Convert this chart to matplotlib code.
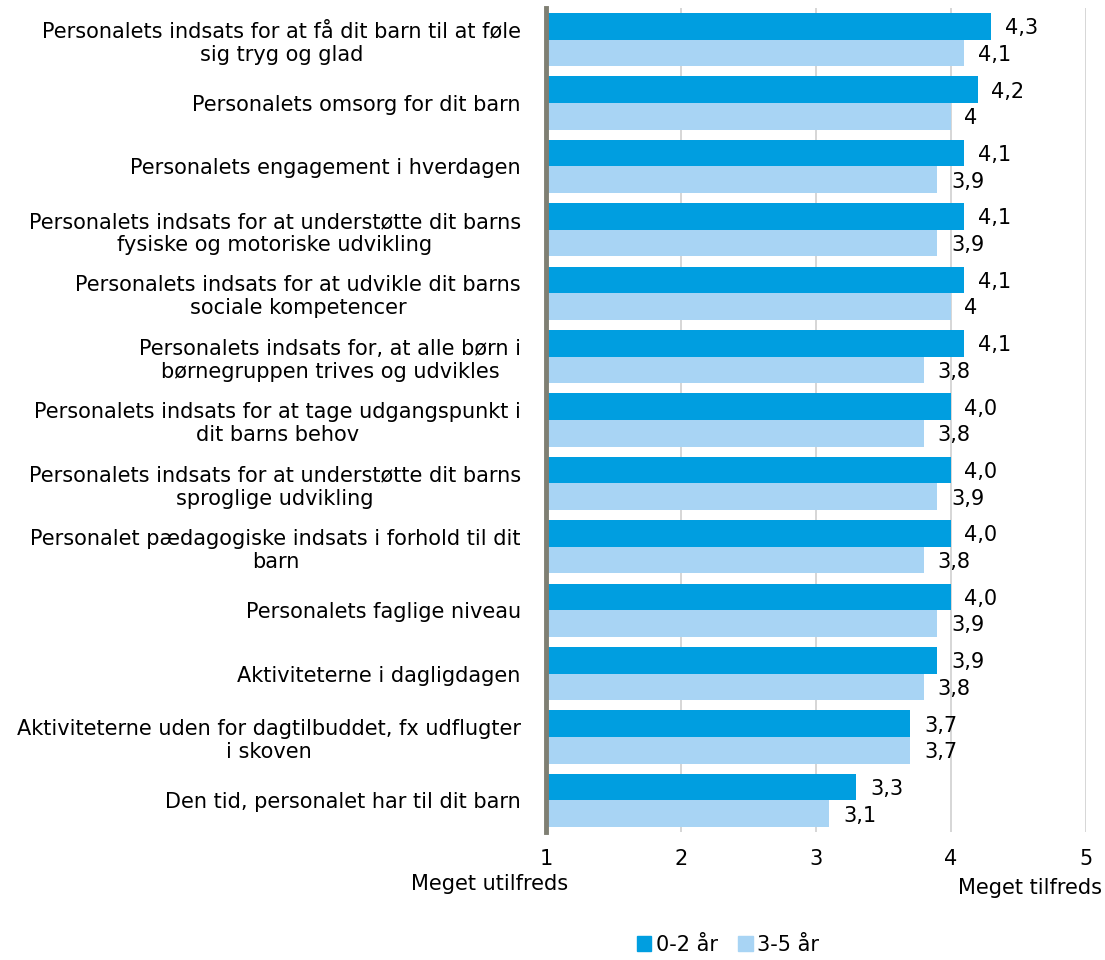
import numpy as np
import matplotlib.pyplot as plt
from matplotlib.patches import Patch

categories = [
    "Personalets indsats for at få dit barn til at føle\nsig tryg og glad",
    "Personalets omsorg for dit barn",
    "Personalets engagement i hverdagen",
    "Personalets indsats for at understøtte dit barns\nfysiske og motoriske udvikling",
    "Personalets indsats for at udvikle dit barns\nsociale kompetencer",
    "Personalets indsats for, at alle børn i\nbørnegruppen trives og udvikles",
    "Personalets indsats for at tage udgangspunkt i\ndit barns behov",
    "Personalets indsats for at understøtte dit barns\nsproglige udvikling",
    "Personalet pædagogiske indsats i forhold til dit\nbarn",
    "Personalets faglige niveau",
    "Aktiviteterne i dagligdagen",
    "Aktiviteterne uden for dagtilbuddet, fx udflugter\ni skoven",
    "Den tid, personalet har til dit barn",
]
age_0_2 = [4.3, 4.2, 4.1, 4.1, 4.1, 4.1, 4.0, 4.0, 4.0, 4.0, 3.9, 3.7, 3.3]
age_3_5 = [4.1, 4.0, 3.9, 3.9, 4.0, 3.8, 3.8, 3.9, 3.8, 3.9, 3.8, 3.7, 3.1]
series_names = ["0-2 år", "3-5 år"]
x_ticks = [1, 2, 3, 4, 5]

dark = "#009ee0"
light = "#a8d4f4"
fs = 15

fig = plt.figure(figsize=(11.05, 9.6), dpi=100)
ax = fig.add_axes([0.494, 0.1333, 0.4887, 0.8584])

y = np.arange(len(categories))
h = 0.42
base = 1
ax.barh(y - h / 2, np.array(age_0_2) - base, height=h, left=base, color=dark)
ax.barh(y + h / 2, np.array(age_3_5) - base, height=h, left=base, color=light)

# data labels
for yi, v in zip(y, age_0_2):
    ax.text(v + 0.1, yi - h / 2 + 0.03, f"{v:.1f}".replace(".", ","),
            va="center", ha="left", fontsize=fs)
for yi, v in zip(y, age_3_5):
    ax.text(v + 0.1, yi + h / 2 + 0.03, f"{v:g}".replace(".", ","),
            va="center", ha="left", fontsize=fs)

ax.set_xlim(1, 5)
ax.set_ylim(len(categories) - 0.5, -0.5)
ax.set_xticks(x_ticks)
ax.set_xticklabels([str(t) for t in x_ticks], fontsize=fs)
ax.set_yticks(y)
ax.set_yticklabels(categories, fontsize=fs, multialignment="center")
ax.tick_params(length=0, pad=18)
ax.tick_params(axis="x", pad=12)

ax.grid(axis="x", color="#d0d0d0", linewidth=1.2)
ax.set_axisbelow(True)
for s in ["top", "right", "bottom"]:
    ax.spines[s].set_visible(False)
ax.spines["left"].set_color("#7f7f73")
ax.spines["left"].set_linewidth(3.5)
ax.spines["left"].set_zorder(5)

fig.text(490 / 1105, 1 - 884 / 960, "Meget utilfreds", ha="center", va="center", fontsize=fs)
fig.text(1102 / 1105, 1 - 888 / 960, "Meget tilfreds", ha="right", va="center", fontsize=fs)

handles = [Patch(color=dark), Patch(color=light)]
fig.legend(handles, series_names, loc="center", bbox_to_anchor=(728 / 1105, 1 - 945 / 960),
           ncol=2, frameon=False, fontsize=fs, handlelength=0.7, handleheight=0.7,
           handletextpad=0.2, columnspacing=1.0)

plt.savefig("out.png", dpi=100)
